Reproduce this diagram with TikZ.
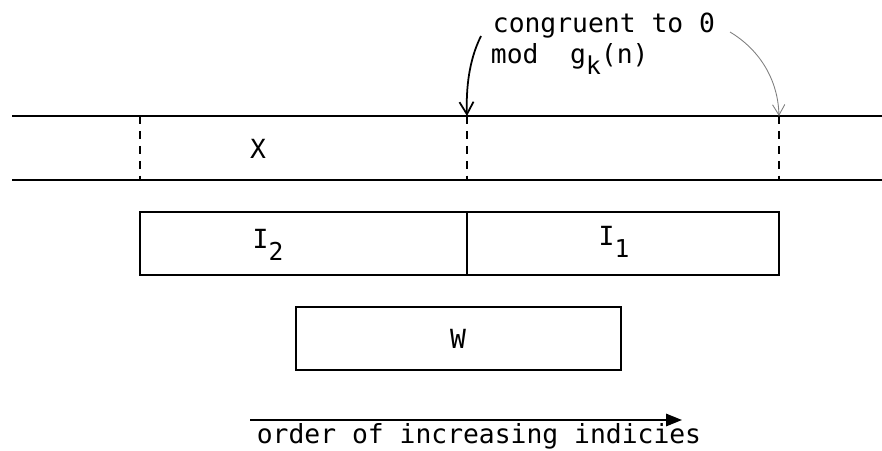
\documentclass[tikz,border=0pt]{standalone}
\usepackage{fontspec}
\setmonofont{DejaVu Sans Mono}
\usetikzlibrary{arrows.meta}

\newcommand{\lowsub}[1]{\raisebox{-0.45em}{\fontsize{14}{14}\selectfont #1}}

\begin{document}
\begin{tikzpicture}[x=0.02cm,y=-0.02cm,line width=1pt,
  font=\ttfamily\fontsize{15}{18}\selectfont]
  \useasboundingbox (0,0) rectangle (882,450);
  % the strip with the cut points
  \draw (12,116) -- (882,116);
  \draw (12,180) -- (882,180);
  \foreach \x/\n in {140/a,467/b,779/c}{
    \coordinate (top\n) at (\x,116);
    \coordinate (bot\n) at (\x,180);
    \draw[dash pattern=on 4.5pt off 4pt] (top\n) -- (bot\n);
  }
  \node (X) at (258,149) {X};
  % the two intervals and W
  \draw (140,212) rectangle (779,275);
  \draw (467,212) -- (467,275);
  \node (I2) at (268,245) {I\lowsub{2}};
  \node (I1) at (614,242) {I\lowsub{1}};
  \draw (296,307) rectangle (621,370);
  \node (W) at (458,339) {W};
  % the label above
  \node[anchor=base west,inner sep=0] (cong) at (492,32) {congruent to 0};
  \node[anchor=base west,inner sep=0] (mod) at (490,63) {mod~~g\lowsub{k}(n)};
  \coordinate (l0) at (481,36);
  \coordinate (r0) at (730,32);
  \draw[-{Straight Barb[length=7pt,width=8pt]}] (l0) .. controls (469,60) and (466,88) .. (topb);
  \draw[line width=0.5pt,gray,-{Straight Barb[length=6pt,width=7pt]}]
    (r0) .. controls (760,50) and (778,80) .. (topc);
  % direction of the indices
  \coordinate (a0) at (250,420);
  \coordinate (a1) at (682,420);
  \draw[-{Triangle[length=9pt,width=7pt]}] (a0) -- (a1);
  \node[anchor=base west,inner sep=0] (ord) at (256,443) {order of increasing indicies};
\end{tikzpicture}
\end{document}
